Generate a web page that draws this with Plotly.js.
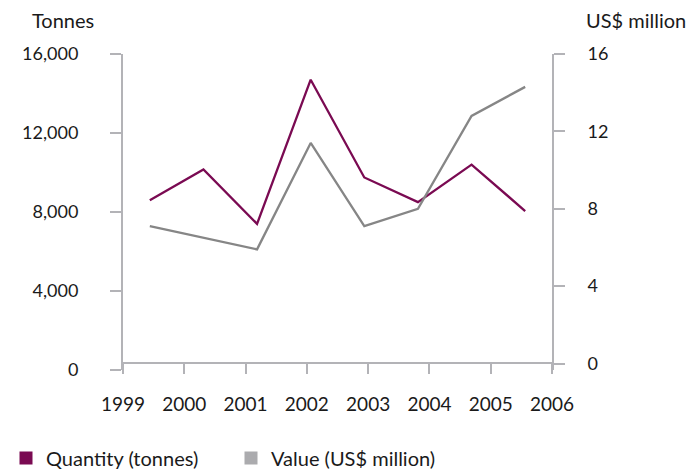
<!DOCTYPE html>
<html><head><meta charset="utf-8">
<script src="https://cdn.plot.ly/plotly-3.0.1.min.js"></script>
<style>html,body{margin:0;padding:0;background:#fff}#chart{width:689px;height:473px}</style>
</head><body><div id="chart"></div>
<script>
const years = [1999, 2000, 2001, 2002, 2003, 2004, 2005, 2006];
const quantityTonnes = [8600, 10150, 7400, 14700, 9750, 8500, 10400, 8050];
const valueUSDm = [7.1, 6.5, 5.9, 11.4, 7.1, 8.0, 12.8, 14.3];
const leftTicks = [0, 4000, 8000, 12000, 16000];
const leftTickText = ['0', '4,000', '8,000', '12,000', '16,000'];
const rightTicks = [0, 4, 8, 12, 16];

const FONT = 'Lato, "Open Sans", sans-serif';
const AX = '#b3b3b7';
const QCOL = '#7a0a52';
const VCOL = '#868686';
const n = years.length;
const xMin = years[0] - 0.5, xMax = years[n - 1] + 0.5;
const tickPos = years.map((y, i) => xMin + i * (xMax - xMin) / (n - 1));

const traces = [
  {x: years, y: quantityTonnes, type: 'scatter', mode: 'lines', line: {color: QCOL, width: 2.3}, showlegend: false, yaxis: 'y'},
  {x: years, y: valueUSDm, type: 'scatter', mode: 'lines', line: {color: VCOL, width: 2.3}, showlegend: false, yaxis: 'y2'},
  {x: [null], y: [null], type: 'scatter', mode: 'markers', name: 'Quantity (tonnes)', marker: {symbol: 'square', size: 13, color: QCOL}},
  {x: [null], y: [null], type: 'scatter', mode: 'markers', name: 'Value (US$ million)', marker: {symbol: 'square', size: 13, color: '#ababae'}}
];

const layout = {
  width: 689, height: 473,
  margin: {l: 123, r: 137, t: 54, b: 103, autoexpand: false},
  paper_bgcolor: '#fff', plot_bgcolor: '#fff',
  font: {family: FONT, size: 19, color: '#1a1a1a'},
  xaxis: {
    range: [xMin, xMax], anchor: 'free', position: 7 / 316,
    tickvals: tickPos, ticktext: years.map(String),
    showgrid: false, zeroline: false, showline: true, linecolor: AX, linewidth: 2,
    ticks: 'outside', ticklen: 10, tickwidth: 2, tickcolor: AX, ticklabelstandoff: 14
  },
  yaxis: {
    range: [0, 16000], tickvals: leftTicks, ticktext: leftTickText, tickfont: {size: 18},
    showgrid: false, zeroline: false, showline: true, linecolor: AX, linewidth: 2,
    ticks: 'outside', ticklen: 11, tickwidth: 2, tickcolor: AX, ticklabelstandoff: 28
  },
  yaxis2: {
    range: [-0.336, 16], tickvals: rightTicks, overlaying: 'y', side: 'right', tickfont: {size: 18},
    showgrid: false, zeroline: false, showline: true, linecolor: AX, linewidth: 2,
    ticks: 'outside', ticklen: 11, tickwidth: 2, tickcolor: AX, ticklabelstandoff: 19
  },
  legend: {orientation: 'h', x: -123 / 429 + 6 / 429, xanchor: 'left', y: -88 / 316, yanchor: 'middle',
    font: {size: 20}, entrywidth: 180, itemwidth: 30},
  annotations: [
    {text: 'Tonnes', font: {size: 20}, xref: 'paper', yref: 'paper', x: 0, y: 1, xanchor: 'left', yanchor: 'middle', xshift: -93, yshift: 34, showarrow: false},
    {text: 'US$ million', font: {size: 20}, xref: 'paper', yref: 'paper', x: 1, y: 1, xanchor: 'left', yanchor: 'middle', xshift: 32, yshift: 34, showarrow: false}
  ]
};
Plotly.newPlot('chart', traces, layout, {displayModeBar: false, staticPlot: true});
</script></body></html>
